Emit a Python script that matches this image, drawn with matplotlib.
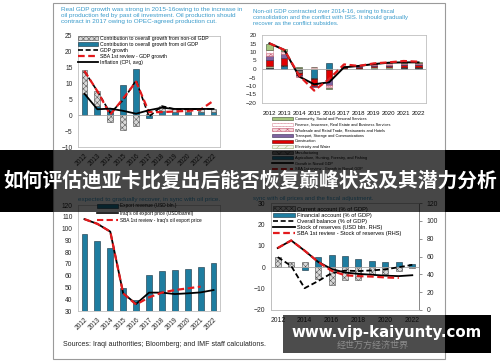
import matplotlib
matplotlib.use('Agg')
import matplotlib.pyplot as plt
from matplotlib.patches import Rectangle, Patch
from matplotlib.lines import Line2D
import numpy as np

plt.rcParams['font.family'] = ['Liberation Sans', 'DejaVu Sans']
plt.rcParams['hatch.linewidth'] = 0.35
plt.rcParams['axes.linewidth'] = 0.6

W, H = 500, 362

years = ['2012', '2013', '2014', '2015', '2016', '2017', '2018', '2019', '2020', '2021', '2022']

# Panel 1: real GDP growth (%)
p1_oil = [6.6, 2.9, 2.4, 9.6, 14.7, -0.9, 1.2, 1.0, 1.0, 1.0, 1.0]
p1_nonoil = [7.6, 4.8, -2.1, -4.6, -3.4, 0.5, 1.8, 0.9, 0.9, 1.0, 1.0]
p1_gdp = [13.9, 7.6, 0.7, 4.8, 11.0, -0.4, 2.9, 1.9, 1.9, 2.0, 2.0]
p1_sba = [14.0, 7.6, 0.2, 5.3, 10.6, 1.0, 1.0, 1.2, 1.4, 1.8, 4.6]
p1_infl = [6.8, 1.9, 2.1, 1.4, 0.5, 1.6, 2.4, 2.0, 2.0, 2.0, 2.0]

# Panel 2: non-oil GDP contributions by sector
sector_names = ['Community, Social and Personal Services',
                'Finance, Insurance, Real Estate and Business Services',
                'Wholesale and Retail Trade, Restaurants and Hotels',
                'Transport, Storage and Communications',
                'Construction',
                'Electricity and Water',
                'Manufacturing',
                'Agriculture, Hunting, Forestry, and Fishing']
s_community = [3.4, 1.1, 0.4, 0.0, -0.5, 0.0, 0.1, 0.1, 0.2, 0.2, 0.2]
s_finance = [1.9, 0.8, 0.3, 1.0, -0.5, 0.1, 0.2, 0.3, 0.3, 0.4, 0.4]
s_wholesale = [1.6, 1.0, -0.4, -0.3, -1.5, 0.2, 0.3, 0.5, 0.6, 0.6, 0.6]
s_transport = [2.7, 2.7, -0.5, -0.5, -3.5, 0.3, 0.4, 0.6, 0.7, 0.7, 0.7]
s_construction = [3.5, 3.6, -1.2, -3.9, -4.9, 0.4, 0.5, 0.7, 0.8, 0.9, 0.9]
s_electricity = [0.3, 0.3, 0.3, 0.4, -0.3, 0.2, 0.2, 0.3, 0.3, 0.3, 0.3]
s_manufacturing = [1.1, 0.5, -2.0, -0.5, -0.5, 0.4, 0.4, 0.5, 0.5, 0.6, 0.6]
s_agriculture = [0.3, 1.8, -0.5, -5.5, 3.3, 0.2, 0.2, 0.3, 0.3, 0.3, 0.3]
p2_growth = [15.1, 11.2, -4.5, -9.0, -7.8, 1.0, 1.8, 2.9, 3.7, 3.9, 3.9]
p2_sba = [15.1, 11.2, -3.9, -12.7, -5.9, 2.7, 1.8, 3.3, 3.9, 4.7, 4.3]

# Panel 3: exports
p3_revenue = [95.0, 89.7, 83.8, 49.2, 39.3, 60.8, 64.2, 64.8, 65.7, 67.6, 70.5]
p3_price = [108.0, 104.0, 97.4, 45.0, 36.0, 45.6, 45.6, 44.4, 45.0, 45.8, 47.8]
p3_sba = [108.0, 104.0, 97.4, 45.0, 35.5, 41.6, 45.6, 47.8, 49.2, 50.7]

# Panel 4: balance of payments
p4_ca = [5.0, 2.2, 2.6, -5.6, -8.3, -6.0, -6.0, -3.1, -3.1, -1.7, -0.4]
p4_fa = [0.0, 0.0, -1.2, 4.7, 5.5, 5.3, 3.9, 3.1, 2.6, 2.3, 1.3]
p4_overall = [4.7, 0.6, -9.8, -6.5, -2.8, -1.6, -1.8, -1.5, -1.0, 0.0, 1.1]
p4_reserves = [69.5, 78.0, 66.5, 54.0, 46.0, 42.0, 40.5, 39.5, 38.5, 38.0, 39.0]
p4_sba = [69.5, 78.0, 66.5, 54.0, 44.0, 39.0, 38.0, 37.5, 36.5, 36.0]

TEAL = '#1E7DA0'
EDGE = '#15303F'
TITLE = '#3A9BCB'
SPINE = '#BFBFBF'
TICK = '#262626'

fig = plt.figure(figsize=(W / 100, H / 100), dpi=100)
fig.patch.set_facecolor('white')


def add_ax(x0, y0, x1, y1):
    return fig.add_axes([x0 / W, 1 - y1 / H, (x1 - x0) / W, (y1 - y0) / H])


def fx(x):
    return x / W


def fy(y):
    return 1 - y / H


def stacked(ax, x, series, styles, width):
    pos = np.zeros(len(x))
    neg = np.zeros(len(x))
    for vals, st in zip(series, styles):
        v = np.array(vals, dtype=float)
        bottom = np.where(v >= 0, pos, neg)
        ax.bar(x, v, width, bottom=bottom, linewidth=0.4, **st)
        pos += np.where(v > 0, v, 0)
        neg += np.where(v < 0, v, 0)


def style_spines(ax, color=SPINE):
    for s in ax.spines.values():
        s.set_color(color)
        s.set_linewidth(0.6)


x = np.arange(len(years))

# outer frame
fig.patches.append(Rectangle((fx(53), fy(359)), (445 - 53) / W, (359 - 3) / H,
                             transform=fig.transFigure, fill=False,
                             edgecolor='#9A9A9A', linewidth=0.8, zorder=0.5))

# ---------------- Panel 1 ----------------
t1 = ("Real GDP growth was strong in 2015-16owing to the increase in\n"
      "oil production fed by past oil investment. Oil production should\n"
      "contract in 2017 owing to OPEC-agreed production cut.")
fig.text(fx(61), fy(7.5), t1, ha='left', va='top', fontsize=4.6, color=TITLE,
         linespacing=1.22)
ax1 = add_ax(78, 36, 220, 147)
hatch_style = dict(facecolor='#D9D9D9', edgecolor='#4D4D4D', hatch='xxxxxx')
oil_style = dict(facecolor=TEAL, edgecolor=EDGE)
stacked(ax1, x, [p1_oil, p1_nonoil], [oil_style, hatch_style], 0.45)
ax1.axhline(0, color='#A6A6A6', lw=0.6, zorder=1)
ax1.plot(x, p1_gdp, color='black', lw=1.2, ls=(0, (3, 1.6)), zorder=3)
ax1.plot(x, p1_sba, color='#E31A1C', lw=1.6, ls=(0, (3, 1.6)), zorder=4)
ax1.plot(x, p1_infl, color='black', lw=1.3, zorder=5)
ax1.set_xlim(-0.5, 10.5)
ax1.set_ylim(-10, 25)
ax1.set_yticks(range(-10, 26, 5))
ax1.set_xticks(x)
ax1.set_xticklabels(years, rotation=45, ha='right', rotation_mode='anchor')
ax1.tick_params(length=0, labelsize=4.8, colors=TICK, pad=4)
style_spines(ax1)
h1 = [Patch(**hatch_style, linewidth=0.4), Patch(**oil_style, linewidth=0.4),
      Line2D([], [], color='black', lw=1.2, ls=(0, (3, 1.6))),
      Line2D([], [], color='#E31A1C', lw=1.6, ls=(0, (3, 1.6))),
      Line2D([], [], color='black', lw=1.3)]
l1 = ['Contribution to overall growth from non-oil GDP',
      'Contribution to overall growth from oil GDP',
      'GDP growth', 'SBA 1st review - GDP growth', 'Inflation (CPI, avg)']
ax1.legend(h1, l1, loc='upper left', bbox_to_anchor=(fx(78), fy(36)),
           bbox_transform=fig.transFigure, frameon=False, fontsize=3.7,
           borderpad=0, borderaxespad=0, labelspacing=0.2, handlelength=3.9,
           handletextpad=0.4, handleheight=0.75)

# ---------------- Panel 2 ----------------
t2 = ("Non-oil GDP contracted over 2014-16, owing to fiscal\n"
      "consolidation and the conflict with ISIS. It should gradually\n"
      "recover as the conflict subsides.")
fig.text(fx(253), fy(9.5), t2, ha='left', va='top', fontsize=4.3, color=TITLE,
         linespacing=1.2)
ax2 = add_ax(262, 35, 426, 103)
sec_styles = [
    dict(facecolor='#A6C77E', edgecolor='#3C4A30'),
    dict(facecolor='white', edgecolor='#D98C9C', hatch='.....'),
    dict(facecolor='#F6D3D9', edgecolor='#C0506A', hatch='xxxx'),
    dict(facecolor='#7F62A1', edgecolor='#3A2A50'),
    dict(facecolor='#E00000', edgecolor='#600000'),
    dict(facecolor='#F4F6EA', edgecolor='#9DB07A', hatch='////'),
    dict(facecolor='#808080', edgecolor='#222222', hatch='xxxx'),
    dict(facecolor=TEAL, edgecolor=EDGE),
]
series2 = [s_community, s_finance, s_wholesale, s_transport, s_construction,
           s_electricity, s_manufacturing, s_agriculture]
stacked(ax2, x, series2[::-1], sec_styles[::-1], 0.42)
ax2.axhline(0, color='#A6A6A6', lw=0.6, zorder=1)
ax2.plot(x, p2_growth, color='black', lw=1.4, zorder=4)
ax2.plot(x, p2_sba, color='#E31A1C', lw=1.6, ls=(0, (3, 1.6)), zorder=5)
ax2.set_xlim(-0.5, 10.5)
ax2.set_ylim(-20, 20)
ax2.set_yticks(range(-20, 21, 5))
ax2.set_xticks(x)
ax2.set_xticklabels(years)
ax2.tick_params(axis='y', length=0, labelsize=4.6, colors=TICK, pad=4)
ax2.tick_params(axis='x', length=0, labelsize=4.4, colors='#111111', pad=6)
style_spines(ax2)
h2 = [Patch(linewidth=0.4, **s) for s in sec_styles] + [
    Line2D([], [], color='black', lw=1.2),
    Line2D([], [], color='#E31A1C', lw=1.4, ls=(0, (3, 1.6)))]
l2 = sector_names + ['Growth in Nonoil GDP', 'SBA 1st review - Growth in Nonoil GDP']
ax2.legend(h2, l2, loc='upper left', bbox_to_anchor=(fx(272), fy(117)),
           bbox_transform=fig.transFigure, frameon=False, fontsize=2.75,
           borderpad=0, borderaxespad=0, labelspacing=0.42, handlelength=5.6,
           handletextpad=0.35, handleheight=0.8)

# ---------------- Panel 3 ----------------
fig.text(fx(78), fy(199), "expected to gradually recover, in sync with oil price.",
         ha='left', va='center', fontsize=4.5, color=TITLE)
ax3 = add_ax(78, 205, 220, 311)
ax3.bar(x, p3_revenue, 0.45, color=TEAL, edgecolor=EDGE, linewidth=0.4)
ax3.plot(x, p3_price, color='black', lw=1.3, zorder=4)
ax3.plot(x[:len(p3_sba)], p3_sba, color='#E31A1C', lw=1.6, ls=(0, (3, 1.6)), zorder=5)
ax3.set_xlim(-0.5, 10.5)
ax3.set_ylim(30, 120)
ax3.set_yticks(range(30, 121, 10))
ax3.set_xticks(x)
ax3.set_xticklabels(years, rotation=45, ha='right', rotation_mode='anchor')
ax3.tick_params(length=0, labelsize=4.8, colors=TICK, pad=4)
style_spines(ax3)
h3 = [Patch(facecolor=TEAL, edgecolor=EDGE, linewidth=0.4),
      Line2D([], [], color='black', lw=1.2),
      Line2D([], [], color='#E31A1C', lw=1.5, ls=(0, (3, 1.6)))]
l3 = ['Export revenue (USD bln.)', "Iraq's oil export price (USD/barrel)",
      "SBA 1st review - Iraq's oil export price"]
ax3.legend(h3, l3, loc='upper left', bbox_to_anchor=(fx(97), fy(203.5)),
           bbox_transform=fig.transFigure, frameon=False, fontsize=3.4,
           borderpad=0, borderaxespad=0, labelspacing=0.45, handlelength=4.4,
           handletextpad=0.4, handleheight=0.75)
fig.text(fx(63), fy(345), "Sources: Iraqi authorities; Bloomberg; and IMF staff calculations.",
         ha='left', va='center', fontsize=5.0, color='#222222')

# ---------------- Panel 4 ----------------
fig.text(fx(253), fy(198.5), "sync with oil prices and the fiscal adjustment.",
         ha='left', va='center', fontsize=4.3, color=TITLE)
ax4 = add_ax(271, 203, 419, 310)
stacked(ax4, x, [p4_fa, p4_ca],
        [oil_style, dict(facecolor='#D9D9D9', edgecolor='#4D4D4D', hatch='xxxxxx')], 0.45)
ax4.axhline(0, color='#A6A6A6', lw=0.6, zorder=1)
ax4.plot(x, p4_overall, color='black', lw=1.3, ls=(0, (3, 1.6)), zorder=4)
ax4.set_xlim(-0.5, 10.5)
ax4.set_ylim(-20, 30)
ax4.set_yticks(range(-20, 31, 10))
ax4.set_xticks(x[::2])
ax4.set_xticklabels(years[::2])
ax4.tick_params(axis='y', length=0, labelsize=4.9, colors=TICK, pad=4)
ax4.tick_params(axis='x', length=0, labelsize=4.9, colors=TICK, pad=5)
style_spines(ax4)
ax4r = ax4.twinx()
ax4r.plot(x, p4_reserves, color='black', lw=1.3, zorder=4)
ax4r.plot(x[:len(p4_sba)], p4_sba, color='#E31A1C', lw=1.6, ls=(0, (3, 1.6)), zorder=5)
ax4r.set_ylim(0, 120)
ax4r.set_yticks(range(0, 121, 20))
ax4r.tick_params(axis='y', length=2.5, width=0.6, color='#808080',
                 labelsize=4.9, colors=TICK, pad=3)
style_spines(ax4r)
ax4r.spines['right'].set_color('#808080')
h4 = [Patch(facecolor='#D9D9D9', edgecolor='#4D4D4D', hatch='xxxxxx', linewidth=0.4),
      Patch(facecolor=TEAL, edgecolor=EDGE, linewidth=0.4),
      Line2D([], [], color='black', lw=1.2, ls=(0, (3, 1.6))),
      Line2D([], [], color='black', lw=1.3),
      Line2D([], [], color='#E31A1C', lw=1.6, ls=(0, (3, 1.6)))]
l4 = ['Current account (% of GDP)', 'Financial account (% of GDP)',
      'Overall balance (% of GDP)', 'Stock of reserves (USD bln. RHS)',
      'SBA 1st review - Stock of reserves (RHS)']
ax4r.legend(h4, l4, loc='upper left', bbox_to_anchor=(fx(273), fy(206.5)),
            bbox_transform=fig.transFigure, frameon=False, fontsize=4.1,
            borderpad=0, borderaxespad=0, labelspacing=0.2, handlelength=3.9,
            handletextpad=0.3, handleheight=0.75)

# ---------------- Overlays ----------------
def overlay(x0, y0, x1, y1, alpha, z):
    fig.patches.append(Rectangle((fx(x0), fy(y1)), (x1 - x0) / W, (y1 - y0) / H,
                                 transform=fig.transFigure, facecolor='black',
                                 edgecolor='none', alpha=alpha, zorder=z))

overlay(0, 150, 53, 212, 1.0, 10)
overlay(445, 150, 500, 212, 1.0, 10)
overlay(53, 150, 445, 212, 0.72, 10)
fig.text(0.5, fy(181), '如何评估迪亚卡比复出后能否恢复巅峰状态及其潜力分析',
         ha='center', va='center', color='white', fontsize=14.2, fontweight='bold',
         family=['Noto Sans CJK SC', 'DejaVu Sans'], zorder=12)

overlay(283, 315, 445, 353, 0.7, 10)
overlay(445, 315, 491, 353, 1.0, 10)
fig.text(fx(337), fy(345), '经世万方经济世界', ha='left', va='center',
         color='#9C9C9C', fontsize=6.5, family=['Noto Sans CJK SC', 'DejaVu Sans'],
         zorder=11, alpha=0.8)
fig.text(fx(386.5), fy(332), 'www.vip-kaiyunty.com', ha='center', va='center',
         color='white', fontsize=10.8, fontweight='bold', family=['DejaVu Sans'],
         zorder=12)

fig.savefig('out.png', dpi=100, facecolor='white')
